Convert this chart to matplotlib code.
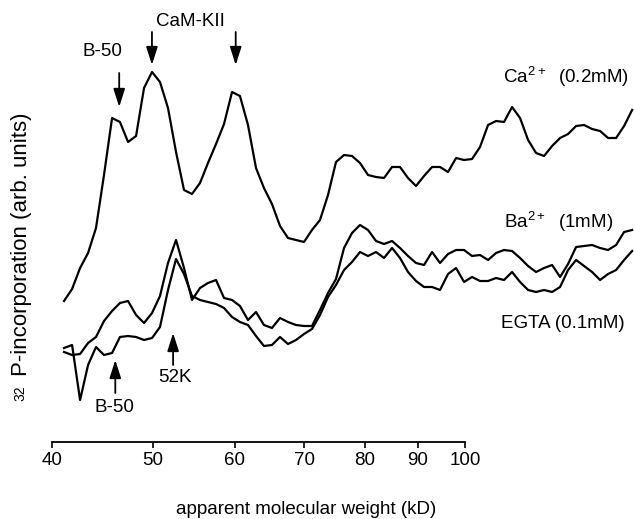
from matplotlib import pyplot as plt
from matplotlib.ticker import NullLocator

# apparent molecular weight (kD), log axis
mol_weight = [41.05, 41.79, 42.54, 43.30, 44.07, 44.86, 45.67, 46.48, 47.32, 48.17,
              49.03, 49.91, 50.80, 51.71, 52.64, 53.58, 54.54, 55.52, 56.51,
              57.53, 58.56, 59.61, 60.67, 61.76, 62.87, 63.99, 65.14, 66.31,
              67.50, 68.71, 69.94, 71.19, 72.47, 73.77, 75.09, 76.44, 77.81,
              79.20, 80.62, 82.07, 83.54, 85.04, 86.56, 88.11, 89.69, 91.30,
              92.94, 94.60, 96.30, 98.03, 99.78, 101.57, 103.39, 105.25, 107.13,
              109.05, 111.01, 113.00, 115.03, 117.09, 119.19, 121.33, 123.50, 125.71,
              127.97, 130.26, 132.60, 134.97, 137.39, 139.86, 142.36, 144.92]

# 32P incorporation, arb. units
ca_02mm = [141, 153, 174, 189, 214, 267, 324, 320, 300, 306,
           354, 370, 360, 334, 290, 252, 248, 259, 279,
           298, 318, 350, 346, 317, 274, 254, 238, 216,
           204, 202, 200, 212, 222, 247, 280, 287, 286,
           279, 267, 265, 264, 275, 275, 264, 256, 266,
           275, 275, 270, 284, 282, 283, 295, 317, 321,
           320, 335, 324, 302, 289, 286, 296, 304, 308,
           316, 317, 313, 311, 304, 304, 316, 332]

ba_1mm = [90, 87, 88, 99, 105, 121, 131, 139, 141, 127,
          119, 129, 146, 179, 202, 174, 142, 154, 159,
          162, 144, 142, 136, 122, 130, 117, 114, 124,
          120, 117, 116, 116, 132, 149, 163, 194, 209,
          217, 212, 201, 198, 201, 194, 186, 179, 177,
          190, 179, 188, 192, 192, 186, 187, 182, 189,
          192, 191, 184, 176, 170, 174, 177, 165, 178,
          195, 196, 197, 194, 192, 197, 210, 212]

egta_01mm = [94, 97, 42, 77, 95, 87, 89, 105, 106, 105,
             102, 104, 115, 152, 183, 168, 146, 142, 140,
             138, 134, 125, 120, 117, 106, 96, 97, 105,
             98, 102, 108, 113, 127, 145, 157, 172, 180,
             190, 186, 190, 184, 194, 184, 170, 161, 155,
             155, 152, 168, 174, 160, 165, 161, 161, 164,
             162, 170, 160, 152, 150, 152, 150, 155, 172,
             182, 176, 170, 162, 168, 172, 182, 191]

tick_values = [40, 50, 60, 70, 80, 90, 100]


def arrow(ax, x, y_tail, y_tip):
    ax.annotate("", xy=(x, y_tip), xytext=(x, y_tail),
                arrowprops=dict(arrowstyle="-|>,head_length=1.1,head_width=0.35",
                                color="black", lw=1.3, shrinkA=0, shrinkB=0))


def main():
    plt.rcParams["font.family"] = ["Liberation Sans", "DejaVu Sans"]
    plt.rcParams["mathtext.fontset"] = "custom"
    plt.rcParams["mathtext.rm"] = "Liberation Sans"

    fig = plt.figure(figsize=(6.34, 5.19), dpi=100)
    ax = fig.add_axes([0, 0, 1, 1])
    ax.set_xscale("log")
    ax.set_xlim(35.61, 145.53)
    ax.set_ylim(-77, 442)

    ax.plot(mol_weight, ca_02mm, color="black", lw=1.6)
    ax.plot(mol_weight, ba_1mm, color="black", lw=1.6)
    ax.plot(mol_weight, egta_01mm, color="black", lw=1.6)

    for side in ["left", "right", "top"]:
        ax.spines[side].set_visible(False)
    ax.spines["bottom"].set_position(("data", 0))
    ax.spines["bottom"].set_bounds(40, 100)
    ax.spines["bottom"].set_linewidth(1.3)
    ax.set_xticks(tick_values)
    ax.set_xticklabels([str(t) for t in tick_values])
    ax.xaxis.set_minor_locator(NullLocator())
    ax.tick_params(axis="x", direction="out", length=4, width=1.2, labelsize=13.5, pad=3)
    ax.set_yticks([])

    # peak markers
    ax.text(44.7, 390, "B-50", fontsize=13.5, ha="center", va="center")
    arrow(ax, 46.4, 369, 335)
    ax.text(54.4, 420, "CaM-KII", fontsize=13.5, ha="center", va="center")
    arrow(ax, 49.9, 410, 377)
    arrow(ax, 60.1, 410, 377)
    ax.text(45.9, 35, "B-50", fontsize=13.5, ha="center", va="center")
    arrow(ax, 46.0, 49, 82)
    ax.text(52.5, 65, "52K", fontsize=13.5, ha="center", va="center")
    arrow(ax, 52.3, 77, 109)

    # trace labels
    ax.text(108.8, 365, r"Ca$^{\mathregular{2+}}$  (0.2mM)", fontsize=13.5, ha="left", va="center")
    ax.text(109.0, 220, r"Ba$^{\mathregular{2+}}$  (1mM)", fontsize=13.5, ha="left", va="center")
    ax.text(108.4, 119, "EGTA (0.1mM)", fontsize=13.5, ha="left", va="center")

    fig.text(22 / 634, 1 - 244 / 519, "P-incorporation (arb. units)", fontsize=16,
             rotation=90, ha="center", va="center")
    fig.text(20 / 634, 1 - 393 / 519, "32", fontsize=10, rotation=90, ha="center", va="center")
    fig.text(306 / 634, 1 - 510 / 519, "apparent molecular weight (kD)", fontsize=13.5,
             ha="center", va="center")

    fig.savefig("out.png", dpi=100)


if __name__ == "__main__":
    main()
